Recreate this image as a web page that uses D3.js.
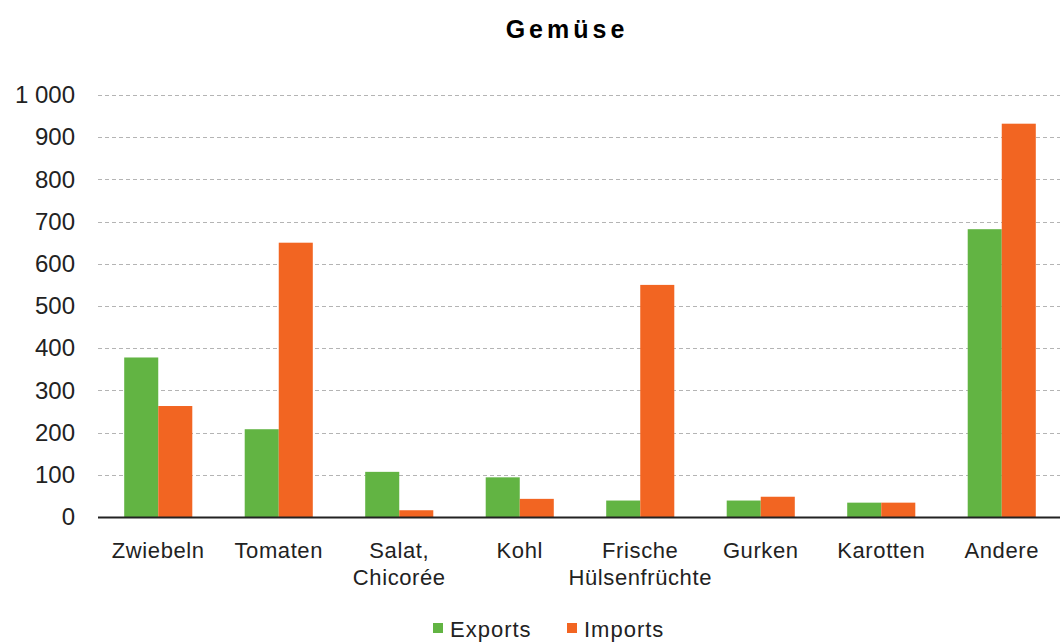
<!DOCTYPE html>
<html>
<head>
<meta charset="utf-8">
<script src="https://cdn.jsdelivr.net/npm/d3@7"></script>
<style>
  body { margin: 0; background: #fff; }
  text { font-family: "Liberation Sans", Arial, sans-serif; fill: #222; }
</style>
</head>
<body>
<div id="chart"></div>
<script>
// data
var categories = ["Zwiebeln", "Tomaten", "Salat,\nChicorée", "Kohl", "Frische\nHülsenfrüchte", "Gurken", "Karotten", "Andere"];
var exportsData = [378, 208, 107, 94, 39, 39, 34, 682];
var importsData = [263, 650, 16, 43, 550, 48, 34, 932];
var seriesNames = ["Exports", "Imports"];
var yTicks = [0, 100, 200, 300, 400, 500, 600, 700, 800, 900, 1000];

var colors = { Exports: "#62b443", Imports: "#f26522" };

var svgWidth = 1060;
var svgHeight = 642;

var svg = d3.select("#chart")
    .append("svg")
    .attr("width", svgWidth)
    .attr("height", svgHeight);

var x0 = d3.scaleBand()
    .domain(categories)
    .range([98, 1062])
    .paddingInner(0.435)
    .paddingOuter(0.2175);

var x1 = d3.scaleBand()
    .domain(seriesNames)
    .range([0, x0.bandwidth()]);

var y = d3.scaleLinear()
    .domain([0, 1000])
    .range([517, 95]);

// gridlines
svg.append("g")
    .selectAll("line")
    .data(yTicks.filter(d => d > 0))
    .enter()
    .append("line")
    .attr("x1", 98)
    .attr("x2", 1060)
    .attr("y1", d => Math.round(y(d)) + 0.5)
    .attr("y2", d => Math.round(y(d)) + 0.5)
    .attr("stroke", "#b4b4b4")
    .attr("stroke-dasharray", "4,3");

// y axis labels
var yAxis = d3.axisLeft(y)
    .tickValues(yTicks)
    .tickSize(0)
    .tickPadding(0)
    .tickFormat(d => d3.format(",")(d).replace(",", " "));

svg.append("g")
    .attr("transform", "translate(75,0)")
    .call(yAxis)
    .call(g => g.select(".domain").remove())
    .selectAll("text")
    .style("font-size", "24px")
    .style("font-family", "'Liberation Sans', Arial, sans-serif")
    .attr("fill", "#222");

// bars
var rows = categories.map((c, i) => ({ cat: c, Exports: exportsData[i], Imports: importsData[i] }));

var groups = svg.append("g")
    .selectAll("g")
    .data(rows)
    .enter()
    .append("g")
    .attr("transform", d => "translate(" + x0(d.cat) + ",0)");

groups.selectAll("rect")
    .data(d => seriesNames.map(k => ({ key: k, value: d[k] })))
    .enter()
    .append("rect")
    .attr("x", d => x1(d.key))
    .attr("width", x1.bandwidth())
    .attr("y", d => y(d.value))
    .attr("height", d => y(0) - y(d.value))
    .attr("fill", d => colors[d.key]);

// baseline
svg.append("line")
    .attr("x1", 98)
    .attr("x2", 1060)
    .attr("y1", y(0) + 0.5)
    .attr("y2", y(0) + 0.5)
    .attr("stroke", "#222")
    .attr("stroke-width", 2);

// category labels (may wrap on two lines)
var catLabels = svg.append("g")
    .selectAll("text")
    .data(categories)
    .enter()
    .append("text")
    .attr("x", d => x0(d) + x0.bandwidth() / 2)
    .attr("y", 558)
    .attr("text-anchor", "middle")
    .style("font-size", "22px")
    .style("letter-spacing", "0.6px");

catLabels.selectAll("tspan")
    .data(d => d.split("\n"))
    .enter()
    .append("tspan")
    .attr("x", function () { return d3.select(this.parentNode).attr("x"); })
    .attr("dy", (d, i) => i === 0 ? 0 : 27)
    .text(d => d);

// title
svg.append("text")
    .attr("x", 567)
    .attr("y", 38)
    .attr("text-anchor", "middle")
    .style("font-size", "25px")
    .style("font-weight", "bold")
    .style("letter-spacing", "4px")
    .style("fill", "#000")
    .text("Gemüse");

// legend
var legend = svg.append("g");
var legendX = [433, 567];
seriesNames.forEach(function (s, i) {
    legend.append("rect")
        .attr("x", legendX[i])
        .attr("y", 623)
        .attr("width", 10)
        .attr("height", 10)
        .attr("fill", colors[s]);
    legend.append("text")
        .attr("x", legendX[i] + 17)
        .attr("y", 637)
        .style("font-size", "22px")
        .style("letter-spacing", "1px")
        .text(s);
});
</script>
</body>
</html>
